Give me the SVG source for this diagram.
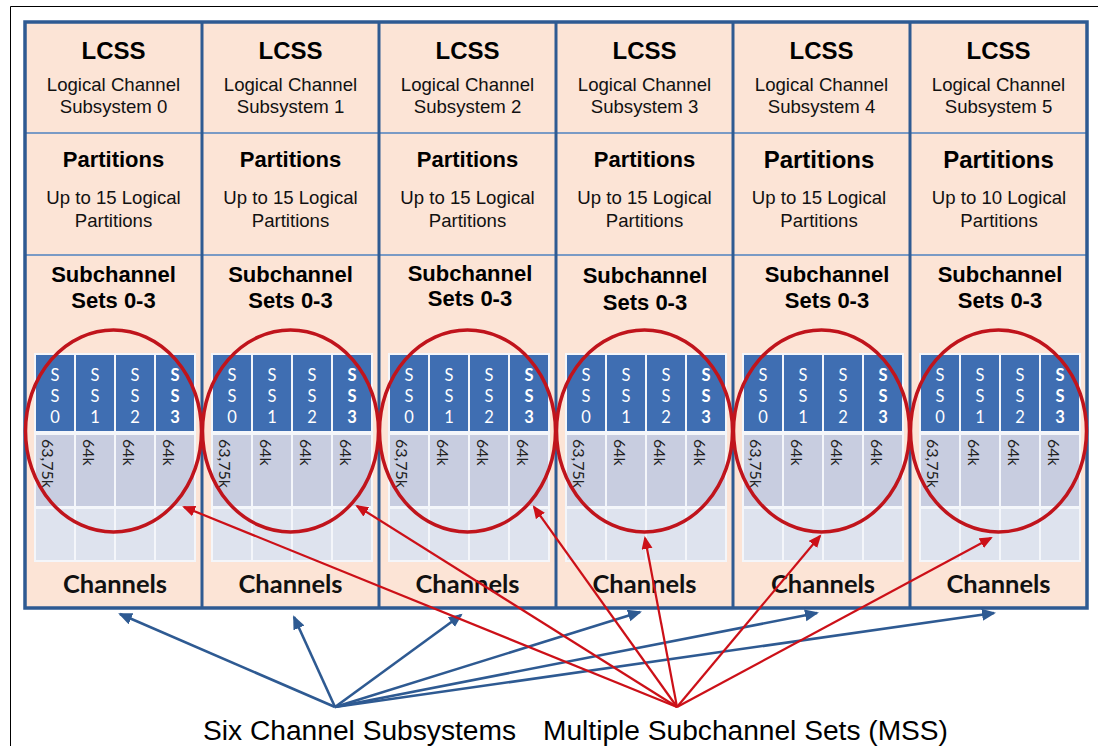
<svg xmlns="http://www.w3.org/2000/svg" width="1098" height="746" viewBox="0 0 1098 746">
  <style>
    .frame { fill: none; stroke: #000; stroke-width: 1; }
    .col { fill: #FCE4D6; }
    .border { fill: none; stroke: #2E5A92; stroke-width: 3.5; }
    .divider { stroke: #2E5A92; stroke-width: 3; }
    .rowline { stroke: #4F82BF; stroke-width: 1.6; }
    .h1 { font-family: "Liberation Sans", Arial, sans-serif; font-weight: bold; font-size: 24px; fill: #000; text-anchor: middle; }
    .h2 { font-family: "Liberation Sans", Arial, sans-serif; font-weight: bold; font-size: 22px; fill: #000; text-anchor: middle; }
    .h2b { font-size: 24px; }
    .body { font-family: "Liberation Sans", Arial, sans-serif; font-size: 18.6px; fill: #111; text-anchor: middle; }
    .chan { font-family: Lato, "Open Sans", sans-serif; font-weight: bold; font-size: 25.5px; fill: #111; text-anchor: middle; }
    .gridbg { fill: #F4F6FA; }
    .ss { fill: #3F6EB2; }
    .cap { fill: #C8CDE0; }
    .free { fill: #DEE3EE; }
    .sst { font-family: Lato, "Open Sans", sans-serif; font-size: 16.5px; fill: #fff; text-anchor: middle; }
    .sstb { font-weight: bold; }
    .capt { font-family: Lato, "Open Sans", sans-serif; font-size: 16px; fill: #222; }
    .ring { fill: none; stroke: #C0141C; stroke-width: 3.5; }
    .blue { fill: none; stroke: #2E5A92; stroke-width: 2.6; marker-end: url(#headBlue); }
    .red { fill: none; stroke: #CC1018; stroke-width: 2.2; marker-end: url(#headRed); }
    .label { font-family: "Liberation Sans", Arial, sans-serif; font-size: 27px; fill: #000; }
  </style>
  <defs>
    <marker id="headBlue" markerUnits="userSpaceOnUse" markerWidth="15" markerHeight="13" refX="12" refY="6" orient="auto">
      <path d="M0,0 L14,6 L0,12 z" fill="#2E5A92"/>
    </marker>
    <marker id="headRed" markerUnits="userSpaceOnUse" markerWidth="15" markerHeight="13" refX="11" refY="5.5" orient="auto">
      <path d="M0,0 L13,5.5 L0,11 z" fill="#CC1018"/>
    </marker>
    <!-- subchannel-set grid, drawn at each column's left edge -->
    <g id="ssgrid">
      <rect class="gridbg" x="9" y="353" width="162" height="209"/>
      <rect class="ss" x="11" y="355" width="38" height="76"/>
      <rect class="ss" x="51" y="355" width="38" height="76"/>
      <rect class="ss" x="91" y="355" width="38" height="76"/>
      <rect class="ss" x="131" y="355" width="38" height="76"/>
      <rect class="cap" x="11" y="435" width="38" height="71"/>
      <rect class="cap" x="51" y="435" width="38" height="71"/>
      <rect class="cap" x="91" y="435" width="38" height="71"/>
      <rect class="cap" x="131" y="435" width="38" height="71"/>
      <rect class="free" x="11" y="509" width="38" height="51"/>
      <rect class="free" x="51" y="509" width="38" height="51"/>
      <rect class="free" x="91" y="509" width="38" height="51"/>
      <rect class="free" x="131" y="509" width="38" height="51"/>
      <text class="sst" x="30" y="381">S</text><text class="sst" x="30" y="402">S</text><text class="sst" x="30" y="423">0</text>
      <text class="sst" x="70" y="381">S</text><text class="sst" x="70" y="402">S</text><text class="sst" x="70" y="423">1</text>
      <text class="sst" x="110" y="381">S</text><text class="sst" x="110" y="402">S</text><text class="sst" x="110" y="423">2</text>
      <text class="sst sstb" x="150" y="381">S</text><text class="sst sstb" x="150" y="402">S</text><text class="sst sstb" x="150" y="423">3</text>
      <text class="capt" transform="translate(16.5,439) rotate(90)">63,75k</text>
      <text class="capt" transform="translate(58,439) rotate(90)">64k</text>
      <text class="capt" transform="translate(98,439) rotate(90)">64k</text>
      <text class="capt" transform="translate(138,439) rotate(90)">64k</text>
    </g>
  </defs>

  <!-- page frame -->
  <path class="frame" d="M10.5,746 V6.5 H1098"/>

  <!-- channel subsystem columns -->
  <g id="lcss0">
    <rect class="col" x="25" y="22" width="177" height="586"/>
    <text class="h1" x="113.5" y="59">LCSS</text>
    <text class="body" x="113.5" y="91">Logical Channel</text>
    <text class="body" x="113.5" y="113">Subsystem 0</text>
    <text class="h2" x="113.5" y="167">Partitions</text>
    <text class="body" x="113.5" y="204">Up to 15 Logical</text>
    <text class="body" x="113.5" y="227">Partitions</text>
    <text class="h2" x="113.5" y="282">Subchannel</text>
    <text class="h2" x="113.5" y="308">Sets 0-3</text>
    <use href="#ssgrid" x="25"/>
    <text class="chan" x="115" y="593">Channels</text>
  </g>
  <g id="lcss1">
    <rect class="col" x="202" y="22" width="177" height="586"/>
    <text class="h1" x="290.5" y="59">LCSS</text>
    <text class="body" x="290.5" y="91">Logical Channel</text>
    <text class="body" x="290.5" y="113">Subsystem 1</text>
    <text class="h2" x="290.5" y="167">Partitions</text>
    <text class="body" x="290.5" y="204">Up to 15 Logical</text>
    <text class="body" x="290.5" y="227">Partitions</text>
    <text class="h2" x="290.5" y="282">Subchannel</text>
    <text class="h2" x="290.5" y="308">Sets 0-3</text>
    <use href="#ssgrid" x="202"/>
    <text class="chan" x="290.5" y="593">Channels</text>
  </g>
  <g id="lcss2">
    <rect class="col" x="379" y="22" width="177" height="586"/>
    <text class="h1" x="467.5" y="59">LCSS</text>
    <text class="body" x="467.5" y="91">Logical Channel</text>
    <text class="body" x="467.5" y="113">Subsystem 2</text>
    <text class="h2" x="467.5" y="167">Partitions</text>
    <text class="body" x="467.5" y="204">Up to 15 Logical</text>
    <text class="body" x="467.5" y="227">Partitions</text>
    <text class="h2" x="470" y="281">Subchannel</text>
    <text class="h2" x="470" y="306">Sets 0-3</text>
    <use href="#ssgrid" x="379"/>
    <text class="chan" x="467.5" y="593">Channels</text>
  </g>
  <g id="lcss3">
    <rect class="col" x="556" y="22" width="177" height="586"/>
    <text class="h1" x="644.5" y="59">LCSS</text>
    <text class="body" x="644.5" y="91">Logical Channel</text>
    <text class="body" x="644.5" y="113">Subsystem 3</text>
    <text class="h2" x="644.5" y="167">Partitions</text>
    <text class="body" x="644.5" y="204">Up to 15 Logical</text>
    <text class="body" x="644.5" y="227">Partitions</text>
    <text class="h2" x="645" y="283">Subchannel</text>
    <text class="h2" x="645" y="310">Sets 0-3</text>
    <use href="#ssgrid" x="556"/>
    <text class="chan" x="644.5" y="593">Channels</text>
  </g>
  <g id="lcss4">
    <rect class="col" x="733" y="22" width="177" height="586"/>
    <text class="h1" x="821.5" y="59">LCSS</text>
    <text class="body" x="821.5" y="91">Logical Channel</text>
    <text class="body" x="821.5" y="113">Subsystem 4</text>
    <text class="h2 h2b" x="819" y="168">Partitions</text>
    <text class="body" x="819" y="204">Up to 15 Logical</text>
    <text class="body" x="819" y="227">Partitions</text>
    <text class="h2" x="827" y="282">Subchannel</text>
    <text class="h2" x="827" y="308">Sets 0-3</text>
    <use href="#ssgrid" x="733"/>
    <text class="chan" x="823" y="593">Channels</text>
  </g>
  <g id="lcss5">
    <rect class="col" x="910" y="22" width="177" height="586"/>
    <text class="h1" x="998.5" y="59">LCSS</text>
    <text class="body" x="998.5" y="91">Logical Channel</text>
    <text class="body" x="998.5" y="113">Subsystem 5</text>
    <text class="h2 h2b" x="998.5" y="168">Partitions</text>
    <text class="body" x="999" y="204">Up to 10 Logical</text>
    <text class="body" x="999" y="227">Partitions</text>
    <text class="h2" x="1000" y="282">Subchannel</text>
    <text class="h2" x="1000" y="308">Sets 0-3</text>
    <use href="#ssgrid" x="910"/>
    <text class="chan" x="998.5" y="593">Channels</text>
  </g>

  <!-- table rules -->
  <g id="rules">
    <line class="rowline" x1="25" y1="133" x2="1087" y2="133"/>
    <line class="rowline" x1="25" y1="255" x2="1087" y2="255"/>
    <line class="divider" x1="202" y1="22" x2="202" y2="608"/>
    <line class="divider" x1="379" y1="22" x2="379" y2="608"/>
    <line class="divider" x1="556" y1="22" x2="556" y2="608"/>
    <line class="divider" x1="733" y1="22" x2="733" y2="608"/>
    <line class="divider" x1="910" y1="22" x2="910" y2="608"/>
    <rect class="border" x="25" y="22" width="1062" height="586"/>
  </g>

  <!-- MSS rings around each subchannel-set grid -->
  <g id="rings">
    <ellipse class="ring" cx="113.5" cy="431" rx="88" ry="101"/>
    <ellipse class="ring" cx="290.5" cy="431" rx="88" ry="101"/>
    <ellipse class="ring" cx="467.5" cy="431" rx="88" ry="101"/>
    <ellipse class="ring" cx="644.5" cy="431" rx="88" ry="101"/>
    <ellipse class="ring" cx="821.5" cy="431" rx="88" ry="101"/>
    <ellipse class="ring" cx="998.5" cy="431" rx="88" ry="101"/>
  </g>

  <!-- connectors -->
  <g id="connectors">
    <line class="blue" x1="335" y1="707" x2="120" y2="614"/>
    <line class="blue" x1="335" y1="707" x2="294" y2="617"/>
    <line class="blue" x1="335" y1="707" x2="461" y2="615"/>
    <line class="blue" x1="335" y1="707" x2="640" y2="612"/>
    <line class="blue" x1="335" y1="707" x2="817" y2="613"/>
    <line class="blue" x1="335" y1="707" x2="994" y2="613"/>
    <line class="red" x1="677" y1="707" x2="184" y2="507"/>
    <line class="red" x1="677" y1="707" x2="357" y2="506"/>
    <line class="red" x1="677" y1="707" x2="534" y2="507"/>
    <line class="red" x1="677" y1="707" x2="645" y2="538"/>
    <line class="red" x1="677" y1="707" x2="820" y2="536"/>
    <line class="red" x1="677" y1="707" x2="991" y2="538"/>
  </g>

  <!-- captions -->
  <text class="label" x="203" y="740" textLength="313" lengthAdjust="spacingAndGlyphs">Six Channel Subsystems</text>
  <text class="label" x="543" y="740" textLength="405" lengthAdjust="spacingAndGlyphs">Multiple Subchannel Sets (MSS)</text>
</svg>
